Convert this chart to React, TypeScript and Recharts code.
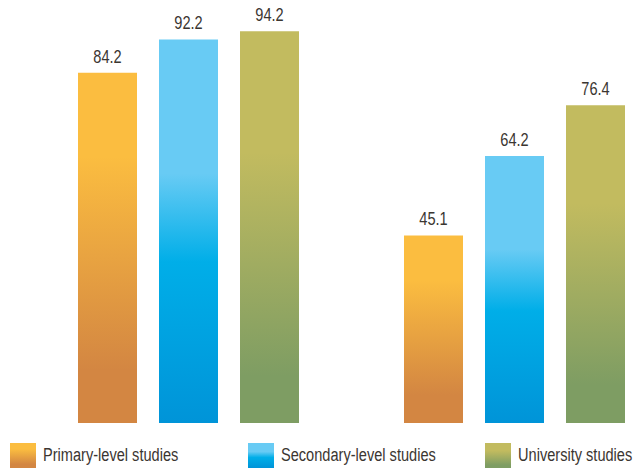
import { BarChart, Bar, XAxis, YAxis, LabelList, Legend } from "recharts";

// Two groups of three bars; the group names are not drawn
const groups = ["Group 1", "Group 2"];
const primaryValues = [84.2, 45.1];
const secondaryValues = [92.2, 64.2];
const universityValues = [94.2, 76.4];

const seriesNames = ["Primary-level studies", "Secondary-level studies", "University studies"];

const data = groups.map((g, i) => ({
  group: g,
  primary: primaryValues[i],
  secondary: secondaryValues[i],
  university: universityValues[i],
}));

const FONT = "'Liberation Sans', Arial, sans-serif";
const TEXT = "#3b3631";
// no condensed face is available, so text is squeezed horizontally
const SQUEEZE = 0.81;

const series = [
  { key: "primary", name: seriesNames[0], fill: "url(#gradPrimary)" },
  { key: "secondary", name: seriesNames[1], fill: "url(#gradSecondary)" },
  { key: "university", name: seriesNames[2], fill: "url(#gradUniversity)" },
];

// Shared gradients, referenced by both the bars and the legend swatches
const Gradients = () => (
  <svg width={0} height={0} style={{ position: "absolute" }}>
    <defs>
      <linearGradient id="gradPrimary" x1="0" y1="0" x2="0" y2="1">
        <stop offset="0" stopColor="#FBBD40" />
        <stop offset="0.24" stopColor="#FBBD40" />
        <stop offset="0.85" stopColor="#D38642" />
        <stop offset="1" stopColor="#D38642" />
      </linearGradient>
      <linearGradient id="gradSecondary" x1="0" y1="0" x2="0" y2="1">
        <stop offset="0" stopColor="#68CBF4" />
        <stop offset="0.35" stopColor="#68CBF4" />
        <stop offset="0.58" stopColor="#00AEE8" />
        <stop offset="1" stopColor="#0094D8" />
      </linearGradient>
      <linearGradient id="gradUniversity" x1="0" y1="0" x2="0" y2="1">
        <stop offset="0" stopColor="#C2BB5F" />
        <stop offset="0.31" stopColor="#C2BB5F" />
        <stop offset="0.88" stopColor="#7E9D63" />
        <stop offset="1" stopColor="#7E9D63" />
      </linearGradient>
    </defs>
  </svg>
);

const ValueLabel = (props: any) => {
  const { x, y, width, value } = props;
  const cx = Number(x) + Number(width) / 2;
  return (
    <text
      x={cx}
      y={Number(y) - 10}
      textAnchor="middle"
      transform={`translate(${cx},0) scale(${SQUEEZE},1) translate(${-cx},0)`}
      style={{ fontFamily: FONT, fontSize: 18, fill: TEXT }}
    >
      {value}
    </text>
  );
};

const legendLeft = [10, 248, 485];

const LegendContent = () => (
  <div style={{ position: "relative", width: 635, height: 26, fontFamily: FONT }}>
    {series.map((s, i) => (
      <div key={s.key} style={{ position: "absolute", left: legendLeft[i], top: 0, height: 25, display: "flex", alignItems: "center" }}>
        <svg width={26} height={25} style={{ display: "block" }}>
          <rect x={0} y={0} width={26} height={25} fill={s.fill} />
        </svg>
        <span
          style={{
            display: "inline-block",
            marginLeft: 7,
            fontSize: 18,
            color: TEXT,
            whiteSpace: "nowrap",
            transform: `scaleX(${SQUEEZE})`,
            transformOrigin: "left center",
          }}
        >
          {s.name}
        </span>
      </div>
    ))}
  </div>
);

export default function App() {
  return (
    <div style={{ position: "absolute", left: 0, top: 0, width: 635, height: 469, overflow: "hidden", background: "#fff" }}>
      <Gradients />
      <BarChart
        width={680}
        height={469}
        data={data}
        margin={{ top: 7, right: 3, left: 25, bottom: 20 }}
        barGap={22}
        barSize={59}
      >
        <XAxis dataKey="group" hide />
        <YAxis domain={[0, 100]} hide />
        <Legend
          verticalAlign="bottom"
          content={<LegendContent />}
          wrapperStyle={{ left: 0, top: 443, bottom: "auto", width: 635, height: 26 }}
        />
        {series.map((s) => (
          <Bar key={s.key} dataKey={s.key} name={s.name} fill={s.fill} isAnimationActive={false}>
            <LabelList dataKey={s.key} content={<ValueLabel />} />
          </Bar>
        ))}
      </BarChart>
    </div>
  );
}
